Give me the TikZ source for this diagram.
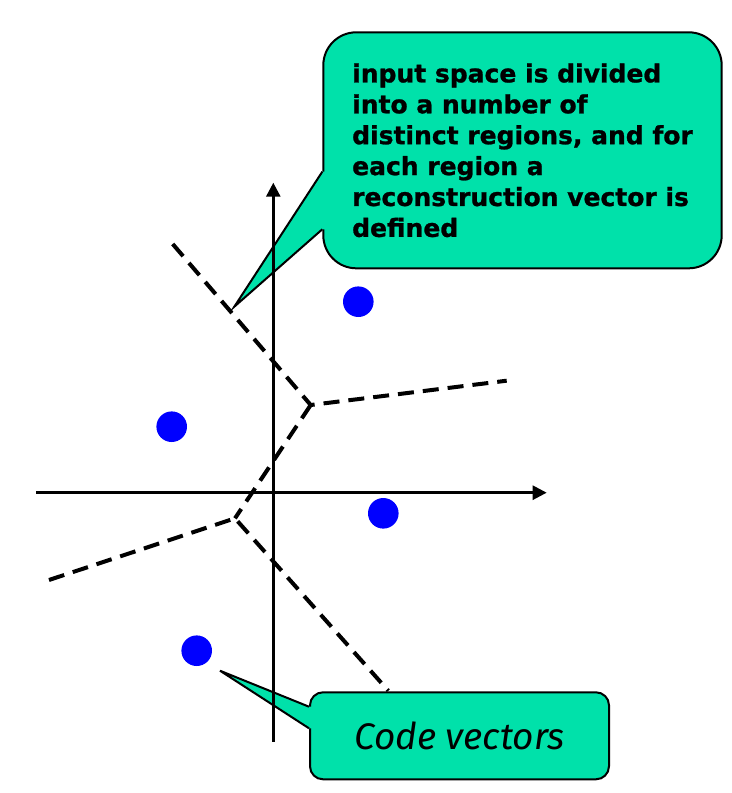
\documentclass[tikz,border=0pt]{standalone}
\usepackage{fontspec}
\setmainfont{DejaVu Sans}[BoldFeatures={FakeBold=1}]
\newfontfamily\handfont{Fira Sans}
\usetikzlibrary{arrows.meta,calc}
\definecolor{vmint}{HTML}{00E1AA}
\definecolor{vblue}{HTML}{0000FF}
\tikzset{
  note/.style={fill=vmint,draw=black,line width=1pt,align=left,inner sep=0pt},
  tail/.style={draw=black,line width=1pt,line join=miter},
  axis/.style={-{Triangle[length=7pt,width=7pt]},line width=1.3pt},
  border/.style={line width=2pt,dash pattern=on 8pt off 4.5pt},
  vec/.style={circle,fill=vblue,minimum size=15.3pt,inner sep=0pt},
}
\begin{document}
\begin{tikzpicture}[x=0.5pt,y=-0.5pt]
\useasboundingbox (0,0) rectangle (732,793);
% region boundaries
\coordinate (ja) at (310.7,405);
\coordinate (jb) at (235,518.3);
\coordinate (e1) at (172.7,244);
\coordinate (e2) at (506.7,380.7);
\coordinate (e3) at (49,580);
\coordinate (e4) at (388.3,690.7);
\draw[border] (e1) -- (ja) -- (e2);
\draw[border] (ja) -- (jb);
\draw[border] (e3) -- (jb) -- (e4);
% callouts
\node[note,rounded corners=16.5pt,minimum width=199.2pt,minimum height=118pt,
  font=\bfseries\fontsize{12.5}{15.45}\selectfont] (info) at (522.5,150.3)
  {input space is divided\\into a number of\\distinct regions, and for\\each region a\\reconstruction vector is\\defined};
\coordinate (tipa) at (234.3,306.7);
\fill[vmint] ($(info.west)+(0,21.4)$) -- (tipa) -- ($(info.west)+(0,79)$) -- ($(info.west)+(4,79)$) -- ($(info.west)+(4,21.4)$) -- cycle;
\draw[tail] ($(info.west)+(0,21.4)$) -- (tipa) -- ($(info.west)+(0,79)$);
\node[note,align=center,rounded corners=6.5pt,minimum width=149.5pt,minimum height=43.5pt,
  font=\handfont\itshape\fontsize{18.5}{21}\selectfont] (codes) at (459.5,735.8) {Code vectors};
\coordinate (tipb) at (220,670.7);
\fill[vmint] ($(codes.west)+(0,-29.1)$) -- (tipb) -- ($(codes.west)+(0,-7.5)$) -- ($(codes.west)+(4,-7.5)$) -- ($(codes.west)+(4,-29.1)$) -- cycle;
\draw[tail] ($(codes.west)+(0,-29.1)$) -- (tipb) -- ($(codes.west)+(0,-7.5)$);
% axes
\coordinate (xl) at (36,492.7);
\coordinate (xr) at (546.7,492.7);
\coordinate (yb) at (273.3,741.7);
\coordinate (yt) at (273.3,182.7);
\draw[axis] (xl) -- (xr);
\draw[axis] (yb) -- (yt);
% code vectors
\node[vec] (c1) at (358.3,301.7) {};
\node[vec] (c2) at (171.7,426.7) {};
\node[vec] (c3) at (383.3,513.3) {};
\node[vec] (c4) at (196.7,650.7) {};
\end{tikzpicture}
\end{document}
